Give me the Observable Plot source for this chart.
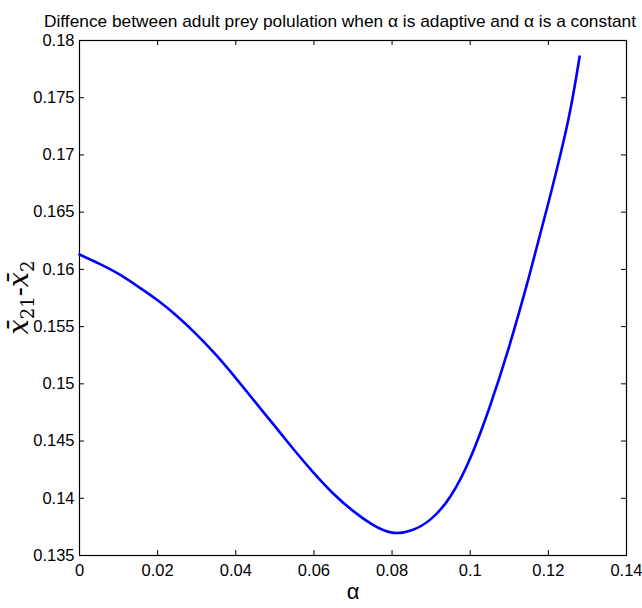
<!DOCTYPE html>
<html>
<head>
<meta charset="utf-8">
<script src="https://cdn.jsdelivr.net/npm/d3@7"></script>
<script src="https://cdn.jsdelivr.net/npm/@observablehq/plot@0.6"></script>
<style>
  html, body { margin: 0; padding: 0; background: #fff; }
  #chart svg { display: block; overflow: visible; }
</style>
</head>
<body>
<div id="chart"></div>
<script>
const alphaValues = [0, 0.005, 0.01, 0.015, 0.02, 0.025, 0.03, 0.035, 0.04, 0.045, 0.05, 0.055, 0.06, 0.065, 0.07, 0.075, 0.08, 0.085, 0.09, 0.095, 0.1, 0.105, 0.11, 0.115, 0.12, 0.125, 0.128];
const diffValues  = [0.1613, 0.1605, 0.1596, 0.1585, 0.1573, 0.1559, 0.1543, 0.1525, 0.1505, 0.1484, 0.1463, 0.1442, 0.1422, 0.1404, 0.1389, 0.1377, 0.1370, 0.1372, 0.1382, 0.1402, 0.1435, 0.1480, 0.1533, 0.1593, 0.1658, 0.1729, 0.1786];
const xTicks = [0, 0.02, 0.04, 0.06, 0.08, 0.1, 0.12, 0.14];
const xTickLabels = ["0", "0.02", "0.04", "0.06", "0.08", "0.1", "0.12", "0.14"];
const yTicks = [0.135, 0.14, 0.145, 0.15, 0.155, 0.16, 0.165, 0.17, 0.175, 0.18];
const yTickLabels = ["0.135", "0.14", "0.145", "0.15", "0.155", "0.16", "0.165", "0.17", "0.175", "0.18"];
const titleText = "Diffence between adult prey polulation when \u03b1 is adaptive and \u03b1 is a constant";
const xLabel = "\u03b1";

const data = alphaValues.map((a, i) => ({alpha: a, diff: diffValues[i]}));

const W = 642, H = 608;
const mL = 79, mR = 16, mT = 40, mB = 53;
const frameW = W - mL - mR, frameH = H - mT - mB;
const tickLen = 5;
const sans = "'Liberation Sans', Arial, sans-serif";

const plot = Plot.plot({
  width: W,
  height: H,
  marginLeft: mL,
  marginRight: mR,
  marginTop: mT,
  marginBottom: mB,
  style: {fontFamily: sans, fontSize: "17px", color: "black", background: "white"},
  x: {domain: [0, 0.14]},
  y: {domain: [0.135, 0.18]},
  marks: [
    Plot.axisX({ticks: xTicks, tickFormat: (d) => xTickLabels[xTicks.findIndex(t => Math.abs(t - d) < 1e-9)], tickSize: 0, tickPadding: 9, label: null, fontSize: 16.5}),
    Plot.axisY({ticks: yTicks, tickFormat: (d) => yTickLabels[yTicks.findIndex(t => Math.abs(t - d) < 1e-9)], tickSize: 0, tickPadding: 5, label: null, fontSize: 16.5}),
    Plot.tickX(xTicks, {x: d => d, insetTop: frameH - tickLen, stroke: "black", strokeWidth: 1}),
    Plot.tickX(xTicks, {x: d => d, insetBottom: frameH - tickLen, stroke: "black", strokeWidth: 1}),
    Plot.tickY(yTicks, {y: d => d, insetRight: frameW - tickLen, stroke: "black", strokeWidth: 1}),
    Plot.tickY(yTicks, {y: d => d, insetLeft: frameW - tickLen, stroke: "black", strokeWidth: 1}),
    Plot.frame({stroke: "black", strokeWidth: 1.2}),
    Plot.line(data, {x: "alpha", y: "diff", stroke: "#0000ff", strokeWidth: 2.6, curve: "natural"}),
    Plot.text([titleText], {frameAnchor: "top", dx: -13, dy: -26, fontSize: 17, fill: "black", fontFamily: sans, className: "chart-title"}),
    Plot.text([xLabel], {frameAnchor: "bottom", dy: 43, fontSize: 22, fill: "black", fontFamily: sans})
  ]
});

document.getElementById("chart").appendChild(plot);

const svg = d3.select(plot);
// condense the title to the reference width
svg.selectAll(".chart-title text")
  .attr("textLength", 592)
  .attr("lengthAdjust", "spacingAndGlyphs");

// y-axis label: x̄21 - x̄2 in math style
const yl = svg.append("text")
  .attr("transform", `translate(28, ${mT + frameH / 2}) rotate(-90)`)
  .attr("text-anchor", "middle")
  .attr("font-family", "'DejaVu Serif', 'Liberation Serif', serif")
  .attr("font-size", 27)
  .attr("fill", "black");
yl.append("tspan").attr("font-style", "italic").text("x\u0304");
yl.append("tspan").attr("font-size", 18).attr("dy", 6).text("21");
yl.append("tspan").attr("dy", -6).text("-");
yl.append("tspan").attr("font-style", "italic").text("x\u0304");
yl.append("tspan").attr("font-size", 18).attr("dy", 6).text("2");
</script>
</body>
</html>
